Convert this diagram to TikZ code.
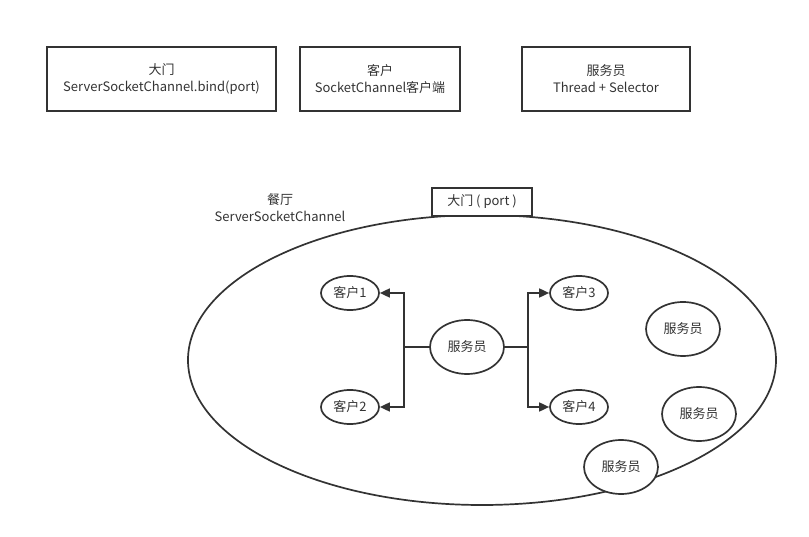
\documentclass[tikz,border=0pt]{standalone}
\usepackage{fontspec}
\setmainfont{Noto Sans CJK SC}
\usetikzlibrary{arrows.meta,shapes.geometric,positioning}

\begin{document}
\begin{tikzpicture}[x=1pt,y=-1pt,>={Triangle[length=10pt,width=9pt]},
                    line width=1.7pt,draw=black!80,text=black!80,
                    font=\fontsize{13}{17}\selectfont]
  \tikzstyle{legend}=[draw,rectangle,inner sep=0pt,align=center,
                      minimum width=229pt,minimum height=64pt]
  \tikzstyle{guest}=[draw,ellipse,inner sep=0pt,minimum width=58pt,minimum height=34pt]
  \tikzstyle{waiter}=[draw,ellipse,inner sep=0pt,minimum width=74pt,minimum height=54pt]

  \useasboundingbox (0,0) rectangle (809,537);

  \node[legend] (door) at (161.5,79) {大门\\ServerSocketChannel.bind(port)};
  \node[legend,minimum width=160pt] (client) at (380,79) {客户\\SocketChannel客户端};
  \node[legend,minimum width=168pt] (staff) at (606,79) {服务员\\Thread + Selector};

  \node[draw,ellipse,inner sep=0pt,minimum width=588pt,minimum height=290pt] (hall) at (482,360) {};
  \node[align=center] (hallname) at (280,208) {餐厅\\ServerSocketChannel};
  \node[draw,fill=white,inner sep=0pt,minimum width=100pt,minimum height=28pt] (port) at (482,202) {大门 ( port )};

  \node[waiter] (w) at (467,347) {服务员};
  \node[guest] (c1) at (350,293) {客户1};
  \node[guest] (c2) at (350,407) {客户2};
  \node[guest] (c3) at (579,293) {客户3};
  \node[guest] (c4) at (579,407) {客户4};

  \node[waiter] (w1) at (683,329) {服务员};
  \node[waiter] (w2) at (699,414) {服务员};
  \node[waiter,fill=white] (w3) at (621,467) {服务员};

  \draw[->] (w.west) -- ++(-25,0) |- (c1.east);
  \draw[->] (w.west) -- ++(-25,0) |- (c2.east);
  \draw[->] (w.east) -- ++(23,0) |- (c3.west);
  \draw[->] (w.east) -- ++(23,0) |- (c4.west);
\end{tikzpicture}
\end{document}
